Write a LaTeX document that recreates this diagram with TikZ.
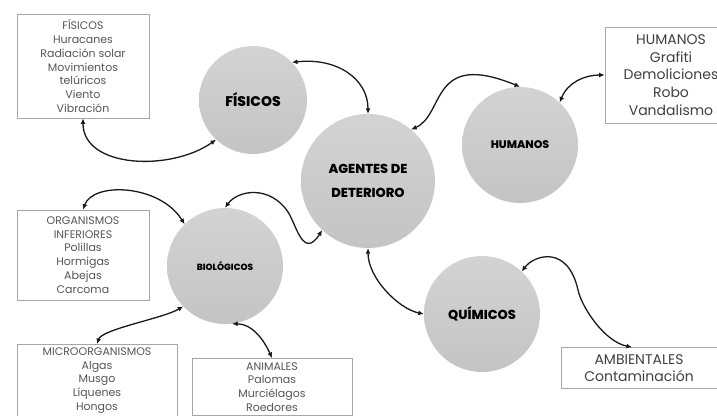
\documentclass[tikz,border=0pt]{standalone}
\usepackage{fontspec}
\setmainfont{Poppins}
\newfontfamily\gruesa{Poppins}[UprightFont=* ExtraBold]
\usepackage{xcolor}
\usepackage{tikz}
\usetikzlibrary{arrows.meta,shapes,positioning,calc}

\definecolor{circuloArriba}{HTML}{D3D3D3}
\definecolor{circuloAbajo}{HTML}{C4C4C4}
\definecolor{bordeCaja}{HTML}{A6A6A6}
\definecolor{textoCaja}{HTML}{555555}

\begin{document}
\begin{tikzpicture}[
    x=1pt,y=-1pt,
    agente/.style={circle,top color=circuloArriba,bottom color=circuloAbajo,inner sep=0pt,align=center,text=black,font=\gruesa\fontsize{#1}{24}\selectfont},
    lista/.style={draw=bordeCaja,line width=0.8pt,align=center,inner sep=0pt,text=textoCaja,font=\fontsize{11}{13.7}\selectfont},
    listaGrande/.style={lista,text=black!75,font=\fontsize{14}{17.6}\selectfont},
    enlace/.style={{Latex[length=5.5pt,width=5pt]}-{Latex[length=5.5pt,width=5pt]},line width=1.3pt,black!90},
]
\useasboundingbox (0,0) rectangle (717,415);
% Agentes
\node[agente=14,minimum size=108pt] (fisicos) at (253,100) {FÍSICOS};
\node[agente=13,minimum size=134pt] (agentes) at (368,181) {AGENTES DE\\DETERIORO};
\node[agente=11,minimum size=116pt] (humanos) at (520,145) {HUMANOS};
\node[agente=9,minimum size=116pt] (biologicos) at (225,266) {BIOLÓGICOS};
\node[agente=13,minimum size=116pt] (quimicos) at (482,314) {QUÍMICOS};
% Listas
\node[lista,minimum width=132pt,minimum height=104pt] (listaFisicos) at (83,66)
    {FÍSICOS\\Huracanes\\Radiación solar\\Movimientos\\telúricos\\Viento\\Vibración};
\node[listaGrande,minimum width=132pt,minimum height=96pt] (listaHumanos) at (671,75)
    {HUMANOS\\Grafiti\\Demoliciones\\Robo\\Vandalismo};
\node[lista,minimum width=132pt,minimum height=90pt] (listaInferiores) at (83,255)
    {ORGANISMOS\\INFERIORES\\Polillas\\Hormigas\\Abejas\\Carcoma};
\node[lista,anchor=north,minimum width=160pt,minimum height=72pt] (listaMicro) at (97,344)
    {MICROORGANISMOS\\Algas\\Musgo\\Líquenes\\Hongos};
\node[lista,anchor=north,minimum width=160pt,minimum height=57pt] (listaAnimales) at (272,358)
    {ANIMALES\\Palomas\\Murciélagos\\Roedores};
\node[listaGrande,minimum width=156pt,minimum height=41pt] (listaAmbientales) at (639,368)
    {AMBIENTALES\\Contaminación};
% Puntos de paso
\coordinate (viaBio) at (288,212);
\coordinate (viaQui) at (578,290);
% Conectores
\draw[enlace] (listaFisicos.south) .. controls +(0,50) and +(-45,32) .. (fisicos.227);
\draw[enlace] (fisicos.44) .. controls +(45,-5) and +(0,-35) .. (agentes.north);
\draw[enlace] (agentes.50) .. controls +(34,-15) and +(-90,-37) .. (humanos.north);
\draw[enlace] (humanos.47) .. controls +(8,-20) and +(-20,0) .. (listaHumanos.west);
\draw[enlace] (listaInferiores.north) .. controls +(10,-28) and +(-25,-40) .. (biologicos.134);
\draw[enlace] (biologicos.north) .. controls +(13,-18) and +(-18,-27) .. (viaBio)
    .. controls +(8,12) and +(-19,30) .. (agentes.227);
\draw[enlace] (biologicos.224) .. controls +(-20,12) and +(5,-15) .. (listaMicro.north);
\draw[enlace] (biologicos.277) .. controls +(20,0) and +(-8,-18) .. (listaAnimales.north);
\draw[enlace] (agentes.south) .. controls +(0,30) and +(-25,-5) .. (quimicos.west);
\draw[enlace] (quimicos.47) .. controls +(13,-17) and +(-10,-45) .. (viaQui)
    .. controls +(4,18) and +(-27,-5) .. ([xshift=-7pt]listaAmbientales.north);
\end{tikzpicture}
\end{document}
